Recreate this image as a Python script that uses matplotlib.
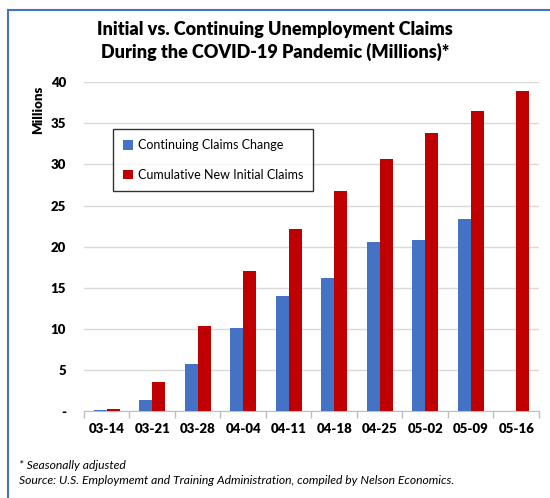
import matplotlib.pyplot as plt
from matplotlib.lines import Line2D
import numpy as np

# weeks ending (2020)
weeks = ["03-14", "03-21", "03-28", "04-04", "04-11", "04-18",
         "04-25", "05-02", "05-09", "05-16"]
# millions
continuing_change = [0.1, 1.3, 5.7, 10.15, 14.05, 16.15, 20.55, 20.75, 23.4, np.nan]
cumulative_initial = [0.25, 3.5, 10.3, 17.05, 22.1, 26.75, 30.65, 33.85, 36.5, 38.95]

blue = "#4472C4"
red = "#C00000"

plt.rcParams["font.family"] = ["Lato", "DejaVu Sans"]

fig = plt.figure(figsize=(5.5, 4.98), dpi=100)
ax = fig.add_axes([0.1527, 0.1747, 0.8273, 0.66])

x = np.arange(len(weeks))
w = 0.29
ax.bar(x - w / 2, continuing_change, w, color=blue, label="Continuing Claims Change", zorder=3)
ax.bar(x + w / 2, cumulative_initial, w, color=red, label="Cumulative New Initial Claims", zorder=3)

ax.set_xlim(-0.5, len(weeks) - 0.5)
ax.set_ylim(0, 40)
yt = np.arange(0, 41, 5)
ax.set_yticks(yt)
ax.set_yticklabels(["-" if v == 0 else str(v) for v in yt], fontweight="heavy", fontsize=9.5)
ax.tick_params(axis="y", length=0, pad=13)

ax.set_xticks(x)
ax.set_xticklabels(weeks, fontweight="heavy", fontsize=9.5)
ax.set_xticks(np.arange(-0.5, len(weeks), 1), minor=True)
ax.tick_params(axis="x", which="major", length=0, pad=9)
ax.tick_params(axis="x", which="minor", length=5, color="#BFBFBF", width=1)

ax.grid(axis="y", color="#D9D9D9", linewidth=1, zorder=0)
for s in ["top", "right", "left"]:
    ax.spines[s].set_visible(False)
ax.spines["bottom"].set_color("#BFBFBF")

leg = ax.legend(loc="upper left", bbox_to_anchor=(0.064, 0.857), borderaxespad=0,
                fontsize=9, handlelength=0.8, handleheight=0.8, handletextpad=0.4,
                labelspacing=1.4, borderpad=0.8, fancybox=False, frameon=True)
leg.get_frame().set_edgecolor("black")
leg.get_frame().set_linewidth(1)

fig.text(0.07, 0.78, "Millions", rotation=90, fontweight="heavy", fontsize=9.5,
         ha="center", va="center")

fig.text(0.5, 0.94, "Initial vs. Continuing Unemployment Claims",
         ha="center", va="center", fontsize=13, fontweight="heavy")
fig.text(0.5, 0.895, "During the COVID-19 Pandemic (Millions)*",
         ha="center", va="center", fontsize=13, fontweight="heavy")

fig.text(0.035, 0.066, "* Seasonally adjusted", style="italic", fontsize=8.7, va="center")
fig.text(0.035, 0.036,
         "Source: U.S. Employmemt and Training Administration, compiled by Nelson Economics.",
         style="italic", fontsize=8.7, va="center")

# outer border (top and left only)
fig.add_artist(Line2D([0.0145, 0.0145], [0, 0.98], transform=fig.transFigure,
                      color="#4472C4", linewidth=1.5))
fig.add_artist(Line2D([0.0145, 1], [0.98, 0.98], transform=fig.transFigure,
                      color="#4472C4", linewidth=1.5))

fig.savefig("out.png", dpi=100)
